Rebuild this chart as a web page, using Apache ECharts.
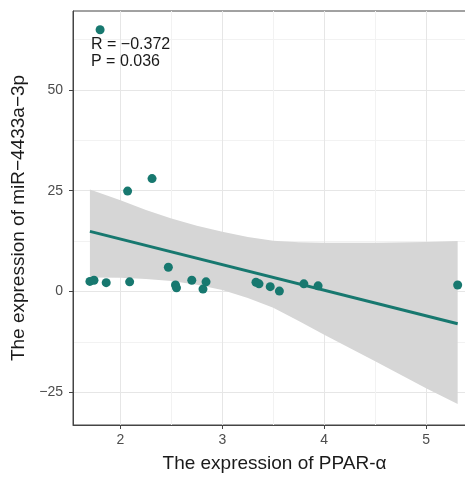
<!DOCTYPE html>
<html lang="en">
<head>
	<meta charset="utf-8">
	<title>PPAR-α vs miR-4433a-3p</title>
	<script src="https://cdn.jsdelivr.net/npm/echarts@6/dist/echarts.min.js"></script>
	<style>
		html, body { margin: 0; padding: 0; background: #fff; overflow: hidden; }
		/* the panel runs past the right edge of the window, as in the cropped original */
		#wrap { width: 465px; height: 478px; overflow: hidden; position: relative; }
		#chart { width: 477px; height: 478px; position: absolute; left: 0; top: 0; }
	</style>
</head>
<body>
<div id="wrap"><div id="chart"></div></div>
<script>
// points
var ppar = [1.80, 2.07, 2.31, 1.70, 1.74, 1.86, 2.09, 2.47, 2.54, 2.55, 2.70, 2.81, 2.84, 3.33, 3.36, 3.47, 3.56, 3.80, 3.94, 5.31];
var mir  = [64.9, 24.9, 28.0, 2.5, 2.8, 2.2, 2.4, 6.0, 1.6, 0.9, 2.8, 0.6, 2.4, 2.3, 1.9, 1.2, 0.1, 1.9, 1.4, 1.6];

// fitted line and its confidence band
var fitX = [1.70, 5.31];
var fitY = [14.9, -8.0];
var bandX     = [1.70, 2.0, 2.25, 2.5, 2.75, 3.0, 3.25, 3.5, 3.75, 4.0, 4.5, 5.0, 5.31];
var bandUpper = [25.3, 22.6, 20.2, 18.1, 16.3, 14.8, 13.5, 12.6, 12.2, 12.1, 12.1, 12.3, 12.5];
var bandLower = [3.5, 3.4, 3.1, 2.6, 1.7, 0.4, -1.6, -4.0, -7.3, -10.7, -17.3, -24.0, -27.9];

var xTicks = [2, 3, 4, 5];
var xMinor = [2.5, 3.5, 4.5];
var yTicks = [-25, 0, 25, 50];
var yMinor = [-12.5, 12.5, 37.5, 62.5];

var teal = '#17786F';
var fontFamily = '"Liberation Sans", Arial, sans-serif';

var points = ppar.map(function (x, i) { return [x, mir[i]]; });
var fit = fitX.map(function (x, i) { return [x, fitY[i]]; });

var xRange = { min: 1.534, max: 5.49 };
var yRange = { min: -33.1, max: 69.55 };

function minus(v) { return String(v).replace('-', '−'); }

function minorAxis(values, range, extra) {
	return Object.assign({
		type: 'value', min: range.min, max: range.max,
		axisLine: { show: false, onZero: false },
		axisTick: { show: false, customValues: values },
		axisLabel: { show: false, customValues: values },
		splitLine: { show: true, lineStyle: { color: '#F2F2F2', width: 1 } }
	}, extra);
}

var chart = echarts.init(document.getElementById('chart'), null, { renderer: 'canvas' });
chart.setOption({
	animation: false,
	textStyle: { fontFamily: fontFamily },
	grid: {
		left: 73, top: 11, right: 1, bottom: 47,
		show: true, borderColor: '#444', borderWidth: 1, backgroundColor: '#fff'
	},
	xAxis: [{
		type: 'value', min: xRange.min, max: xRange.max,
		name: 'The expression of PPAR-α', nameLocation: 'middle', nameGap: 29,
		nameTextStyle: { fontSize: 19, color: '#1a1a1a', fontFamily: fontFamily },
		axisLine: { show: true, onZero: false, lineStyle: { color: '#444' } },
		axisTick: { show: true, length: 4, customValues: xTicks, lineStyle: { color: '#444' } },
		axisLabel: { customValues: xTicks, fontSize: 14, color: '#4D4D4D', margin: 8 },
		splitLine: { show: true, lineStyle: { color: '#E6E6E6', width: 1 } }
	}, minorAxis(xMinor, xRange, { position: 'bottom' })],
	yAxis: [{
		type: 'value', min: yRange.min, max: yRange.max,
		name: 'The expression of miR−4433a−3p', nameLocation: 'middle', nameGap: 38,
		nameTextStyle: { fontSize: 19, color: '#1a1a1a', fontFamily: fontFamily },
		axisLine: { show: true, onZero: false, lineStyle: { color: '#444' } },
		axisTick: { show: true, length: 4, customValues: yTicks, lineStyle: { color: '#444' } },
		axisLabel: { customValues: yTicks, fontSize: 14, color: '#4D4D4D', margin: 10, formatter: minus },
		splitLine: { show: true, lineStyle: { color: '#E6E6E6', width: 1 } }
	}, minorAxis(yMinor, yRange, { position: 'left' })],
	graphic: [{
		type: 'text', left: 91, top: 36, z: 100,
		style: {
			text: 'R = −0.372\nP = 0.036', fill: '#1a1a1a',
			font: '16px ' + fontFamily, lineHeight: 17
		}
	}],
	series: [{
		type: 'custom',
		silent: true,
		data: [0],
		z: 1,
		renderItem: function (params, api) {
			var pts = [];
			bandX.forEach(function (x, i) { pts.push(api.coord([x, bandUpper[i]])); });
			for (var i = bandX.length - 1; i >= 0; i--) pts.push(api.coord([bandX[i], bandLower[i]]));
			return { type: 'polygon', shape: { points: pts }, style: { fill: '#D6D6D6' } };
		}
	}, {
		type: 'line',
		data: fit,
		symbol: 'none',
		z: 2,
		lineStyle: { color: teal, width: 3 }
	}, {
		type: 'scatter',
		data: points,
		symbolSize: 9,
		z: 3,
		itemStyle: { color: teal, opacity: 1 }
	}]
});
</script>
</body>
</html>
